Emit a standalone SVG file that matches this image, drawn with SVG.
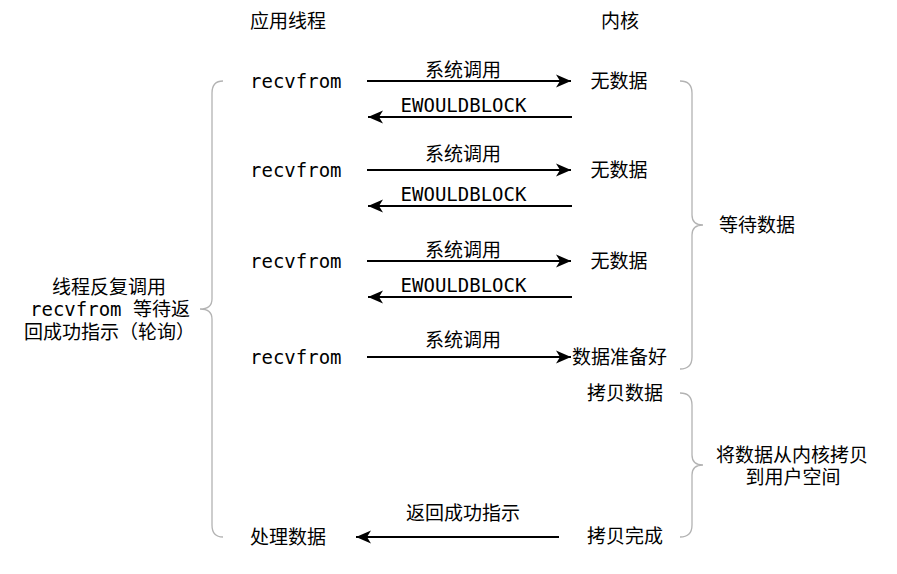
<svg xmlns="http://www.w3.org/2000/svg" width="897" height="574" viewBox="0 0 897 574">
<style>
text{font-family:"DejaVu Sans Mono","Noto Sans CJK SC",monospace;font-size:19px;fill:#000}
.m{text-anchor:middle}
.ln{stroke:#000;stroke-width:2;fill:none}
.br{stroke:#b3b3b3;stroke-width:1.3;fill:none}
</style>
<defs>
<marker id="ah" markerUnits="userSpaceOnUse" markerWidth="16" markerHeight="14" refX="15" refY="7" orient="auto" viewBox="0 0 16 14">
<path d="M15,7 L0,0.5 L4,7 L0,13.5 Z" fill="#000"/>
</marker>
</defs>
<rect width="897" height="574" fill="#fff"/>
<g id="connectors">
<path class="ln" d="M367,81 H571" marker-end="url(#ah)"/>
<path class="ln" d="M572,117 H368" marker-end="url(#ah)"/>
<path class="ln" d="M367,170 H571" marker-end="url(#ah)"/>
<path class="ln" d="M572,206 H368" marker-end="url(#ah)"/>
<path class="ln" d="M367,261 H571" marker-end="url(#ah)"/>
<path class="ln" d="M572,297 H368" marker-end="url(#ah)"/>
<path class="ln" d="M367,357 H571" marker-end="url(#ah)"/>
<path class="ln" d="M559,537 H356" marker-end="url(#ah)"/>
</g>
<g id="labels">
<text class="m" x="463" y="77">系统调用</text>
<text class="m" x="463.5" y="112">EWOULDBLOCK</text>
<text class="m" x="463" y="161">系统调用</text>
<text class="m" x="463.5" y="201">EWOULDBLOCK</text>
<text class="m" x="463" y="257">系统调用</text>
<text class="m" x="463.5" y="292">EWOULDBLOCK</text>
<text class="m" x="463" y="347">系统调用</text>
<text class="m" x="463" y="520">返回成功指示</text>
</g>
<g id="headers">
<text x="250" y="28">应用线程</text>
<text x="601" y="28">内核</text>
</g>
<g id="app-col">
<text x="250" y="88">recvfrom</text>
<text x="250" y="177">recvfrom</text>
<text x="250" y="268">recvfrom</text>
<text x="250" y="364">recvfrom</text>
<text x="250" y="544">处理数据</text>
</g>
<g id="kernel-col">
<text class="m" x="619" y="88">无数据</text>
<text class="m" x="619" y="177">无数据</text>
<text class="m" x="619" y="268">无数据</text>
<text class="m" x="619.5" y="364">数据准备好</text>
<text class="m" x="625" y="400">拷贝数据</text>
<text class="m" x="625" y="543">拷贝完成</text>
</g>
<g id="left-brace">
<path class="br" d="M223,81 Q212,81 212,93 L212,299 Q212,309 200,309 Q212,309 212,319 L212,525 Q212,537 223,537"/>
<text class="m" x="109" y="294">线程反复调用</text>
<text class="m" x="110" y="316">recvfrom 等待返</text>
<text class="m" x="109.5" y="339">回成功指示（轮询）</text>
</g>
<g id="wait-brace">
<path class="br" d="M680,81 Q692,81 692,93 L692,215 Q692,225 703,225 Q692,225 692,235 L692,357 Q692,369 680,369"/>
<text x="719" y="232">等待数据</text>
</g>
<g id="copy-brace">
<path class="br" d="M680,393 Q692,393 692,405 L692,455 Q692,465 703,465 Q692,465 692,475 L692,525 Q692,537 680,537"/>
<text class="m" x="792" y="462">将数据从内核拷贝</text>
<text class="m" x="793" y="484">到用户空间</text>
</g>
</svg>
